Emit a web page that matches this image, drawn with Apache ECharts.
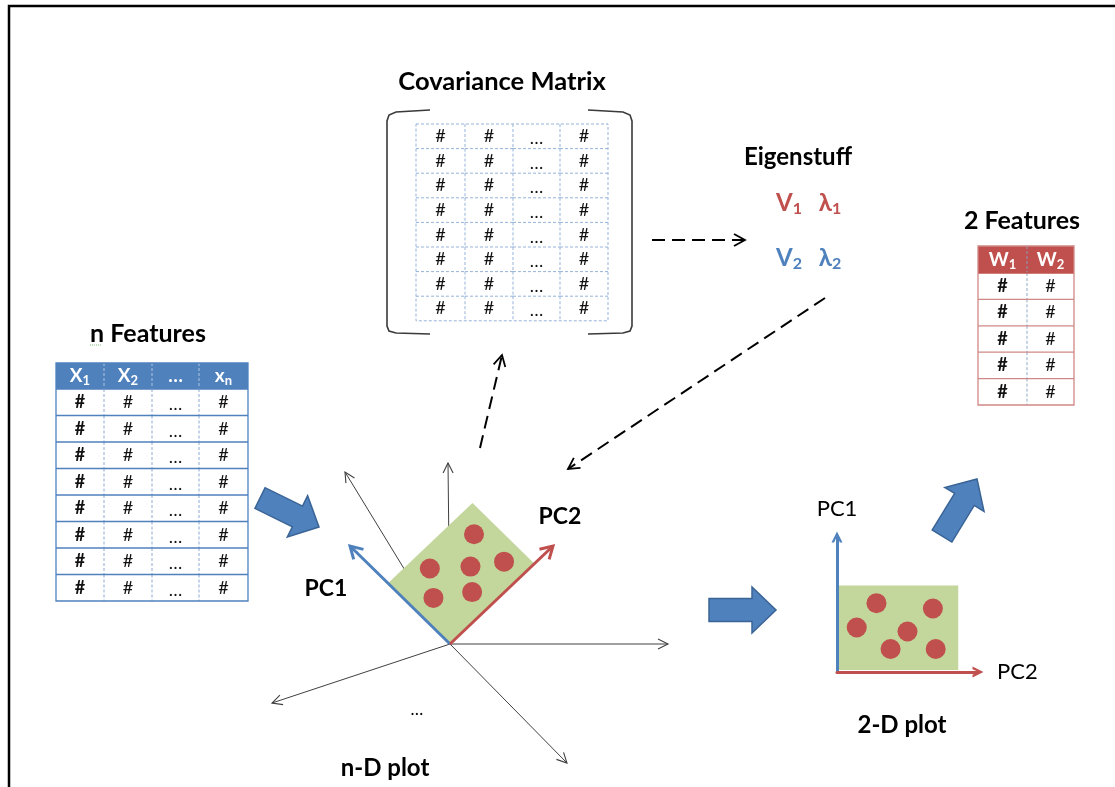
<!DOCTYPE html>
<html>
<head>
<meta charset="utf-8">
<script src="https://cdn.jsdelivr.net/npm/echarts@6/dist/echarts.min.js"></script>
<style>
html,body{margin:0;padding:0;background:#ffffff;}
#chart{width:1115px;height:787px;}
</style>
</head>
<body>
<div id="chart"></div>
<script>
// ================= DATA =================
const covTitle = 'Covariance Matrix';
const covRows = [
  ['#', '#', '…', '#'],
  ['#', '#', '…', '#'],
  ['#', '#', '…', '#'],
  ['#', '#', '…', '#'],
  ['#', '#', '…', '#'],
  ['#', '#', '…', '#'],
  ['#', '#', '…', '#'],
  ['#', '#', '…', '#']
];
const nFeatTitle = 'n Features';
const nFeatHeader = [['X', '1'], ['X', '2'], ['…', ''], ['x', 'n']];
const nFeatRows = [
  ['#', '#', '…', '#'],
  ['#', '#', '…', '#'],
  ['#', '#', '…', '#'],
  ['#', '#', '…', '#'],
  ['#', '#', '…', '#'],
  ['#', '#', '…', '#'],
  ['#', '#', '…', '#'],
  ['#', '#', '…', '#']
];
const twoFeatTitle = '2 Features';
const twoFeatHeader = [['W', '1'], ['W', '2']];
const twoFeatRows = [
  ['#', '#'],
  ['#', '#'],
  ['#', '#'],
  ['#', '#'],
  ['#', '#']
];
const eigenTitle = 'Eigenstuff';
const eigenPairs = [['V', '1', 'λ', '1'], ['V', '2', 'λ', '2']];
// n-D plot: points in (PC1, PC2) units
const ndDots = [[4.5, 6.7], [4.9, 2.8], [3.0, 4.9], [1.6, 6.8], [3.2, 1.5], [1.6, 3.7]];
const ndPatch = [6.2, 8.2];
const ndAxisLabels = ['PC1', 'PC2'];
const ndEllipsis = '…';
const ndCaption = 'n-D plot';
// 2-D plot: points in (PC2, PC1) units
const twoDDots = [[2.8, 5.1], [6.8, 4.7], [1.4, 3.3], [5.0, 3.0], [3.8, 1.7], [7.0, 1.7]];
const twoDPatch = [8.6, 6.4];
const twoDAxisNames = ['PC2', 'PC1'];
const twoDCaption = '2-D plot';

// ================= LAYOUT / STYLE =================
const W = 1115, H = 787;
const FONT = "Lato, 'Open Sans', 'DejaVu Sans', sans-serif";
const BLUE = '#4F81BD', RED = '#C0504D', GREEN = '#C3D69B', DARKBLUE = '#3A6496';
const LAYOUT = {
  cov: { x: 416, y: 124, colW: [49, 48, 47, 48], headerH: 0, rowH: 24.6 },
  covBrackets: [
    [[430, 110], [396, 112], [389, 115], [387, 121], [387, 326], [389, 331], [396, 333], [430, 334]],
    [[588, 110], [623, 112], [630, 115], [632, 121], [632, 326], [630, 331], [623, 333], [588, 334]]
  ],
  nFeat: { x: 56, y: 363, colW: [48, 48, 47, 49], headerH: 26, rowH: 26.5 },
  twoFeat: { x: 978, y: 246, colW: [49, 47], headerH: 27, rowH: 26.4 },
  eigenRows: [[789, 830, 203], [789, 830, 258]],
  nd: { o: [450, 644], u1: [-10, -9.8], u2: [10.3, -9.8],
        axes: [[448, 463], [345, 472], [668, 644], [272, 703], [567, 763]] },
  dashed: [[652, 240, 745, 240], [825, 298, 568, 469], [480, 448, 502, 355]],
  block: [[260, 498, 319, 527], [709, 610, 776, 610], [942, 536, 977, 479]],
  border: [[9, 787], [9, 6], [1115, 6]],
  spellMark: [[90, 345], [102, 345]],
  grid2D: { left: 837, top: 537, width: 141, height: 135 }
};
const textItems = [
  { t: covTitle, p: [502, 82], s: 25.5, w: 'bold' },
  { t: nFeatTitle, p: [148, 334], s: 25, w: 'bold' },
  { t: twoFeatTitle, p: [1022, 221], s: 25, w: 'bold' },
  { t: eigenTitle, p: [798, 157], s: 24, w: 'bold' },
  { t: ndAxisLabels[0], p: [326, 589], s: 23, w: 'bold' },
  { t: ndAxisLabels[1], p: [560, 517], s: 23, w: 'bold' },
  { t: ndEllipsis, p: [417, 710], s: 17, w: 'normal' },
  { t: ndCaption, p: [385, 768], s: 24, w: 'bold' },
  { t: twoDCaption, p: [902, 725], s: 24, w: 'bold' }
];

// ================= HELPERS =================
function add(a, b) { return [a[0] + b[0], a[1] + b[1]]; }
function mul(a, k) { return [a[0] * k, a[1] * k]; }
function unit(a, b) { const dx = b[0] - a[0], dy = b[1] - a[1], l = Math.hypot(dx, dy); return [dx / l, dy / l]; }
function openHead(from, tip, len, hw) {
  const d = unit(from, tip), n = [-d[1], d[0]], b = add(tip, mul(d, -len));
  return [add(b, mul(n, hw)), tip, add(b, mul(n, -hw))];
}
function blockArrow(t, p, bh, hh, hl) {
  const d = unit(t, p), n = [-d[1], d[0]], b = add(p, mul(d, -hl));
  return [add(t, mul(n, bh)), add(b, mul(n, bh)), add(b, mul(n, hh)), p,
          add(b, mul(n, -hh)), add(b, mul(n, -bh)), add(t, mul(n, -bh))];
}
function txt(x, y, text, size, weight, color) {
  return { type: 'text', x: x, y: y, z2: 30,
    style: { text: text, fill: color, fontSize: size, fontWeight: weight, fontFamily: FONT,
             align: 'center', verticalAlign: 'middle' } };
}
function subTxt(x, y, main, sub, size, weight, color) {
  if (!sub) return txt(x, y, main, size, weight, color);
  return { type: 'text', x: x, y: y, z2: 30,
    style: { text: '{m|' + main + '}{s|' + sub + '}', align: 'center', verticalAlign: 'middle',
      rich: {
        m: { fontSize: size, fontWeight: weight, fontFamily: FONT, fill: color, lineHeight: size + 4, verticalAlign: 'middle' },
        s: { fontSize: Math.round(size * 0.66), fontWeight: weight, fontFamily: FONT, fill: color, verticalAlign: 'bottom' }
      } } };
}
function custom0(name, data, renderItem, z) {
  return { type: 'custom', name: name, coordinateSystem: 'cartesian2d', xAxisIndex: 0, yAxisIndex: 0,
           data: data, renderItem: renderItem, silent: true, z: z || 2, animation: false, clip: false };
}

function tableSeries(name, cfg, header, rows, th) {
  const cells = [];
  if (header) header.forEach((h, c) => cells.push({ c: c, r: -1, t: h[0], s: h[1] }));
  rows.forEach((row, r) => row.forEach((t, c) => cells.push({ c: c, r: r, t: t, s: '' })));
  const nCols = cfg.colW.length, nRows = rows.length;
  const totalW = cfg.colW.reduce((a, b) => a + b, 0);
  const totalH = cfg.headerH + nRows * cfg.rowH;
  return custom0(name, cells.map((d, i) => [i, 0]), function (params, api) {
    const d = cells[params.dataIndex];
    let x0 = cfg.x;
    for (let k = 0; k < d.c; k++) x0 += cfg.colW[k];
    const w = cfg.colW[d.c];
    const y0 = d.r < 0 ? cfg.y : cfg.y + cfg.headerH + d.r * cfg.rowH;
    const h = d.r < 0 ? cfg.headerH : cfg.rowH;
    const tl = api.coord([x0, y0]), br = api.coord([x0 + w, y0 + h]);
    const ch = [];
    ch.push({ type: 'rect', z2: 1, shape: { x: tl[0], y: tl[1], width: br[0] - tl[0], height: br[1] - tl[1] },
              style: { fill: d.r < 0 ? th.headerFill : '#ffffff' } });
    if (d.c < nCols - 1) {
      ch.push({ type: 'line', z2: d.r < 0 ? 6 : 5, shape: { x1: br[0], y1: tl[1], x2: br[0], y2: br[1] },
        style: { stroke: d.r < 0 ? th.headerVColor : th.vColor, lineWidth: 1, lineDash: th.vDash } });
    }
    if (d.r < nRows - 1) {
      ch.push({ type: 'line', z2: 6, shape: { x1: tl[0], y1: br[1], x2: br[0], y2: br[1] },
        style: { stroke: d.r < 0 ? th.headerHColor : th.hColor, lineWidth: th.hWidth, lineDash: th.hDash } });
    }
    if (params.dataIndex === 0) {
      const a = api.coord([cfg.x, cfg.y]), b = api.coord([cfg.x + totalW, cfg.y + totalH]);
      ch.push({ type: 'rect', z2: 8, shape: { x: a[0], y: a[1], width: b[0] - a[0], height: b[1] - a[1] },
        style: { fill: null, stroke: th.outer, lineWidth: th.outerWidth, lineDash: th.outerDash } });
    }
    const cx = (tl[0] + br[0]) / 2, cy = (tl[1] + br[1]) / 2;
    if (d.r < 0) {
      ch.push(subTxt(cx, cy, d.t, d.s, th.headerSize, 'bold', '#ffffff'));
    } else {
      const bold = th.boldFirst && d.c === 0 && d.t === '#';
      ch.push(txt(cx, cy + (d.t === '…' ? 2 : 0), d.t, th.size, bold ? 'bold' : 'normal', '#111111'));
    }
    return { type: 'group', children: ch };
  }, 3);
}

// ================= SERIES =================
const series = [];

// page border
series.push(custom0('border', [[0, 0]], function (p, api) {
  return { type: 'polyline', shape: { points: LAYOUT.border.map(q => api.coord(q)) },
           style: { stroke: '#000000', lineWidth: 2.5, fill: null } };
}, 1));

// tables
series.push(tableSeries('cov', LAYOUT.cov, null, covRows, {
  headerFill: '#fff', vColor: '#95B3D7', vDash: [3, 2], hColor: '#95B3D7', hDash: [3, 2], hWidth: 1,
  outer: '#95B3D7', outerWidth: 1, outerDash: [3, 2], size: 18, boldFirst: false
}));
series.push(tableSeries('nfeat', LAYOUT.nFeat, nFeatHeader, nFeatRows, {
  headerFill: BLUE, headerVColor: 'rgba(255,255,255,0.55)', headerHColor: BLUE,
  vColor: '#8DA9D3', vDash: [3, 2], hColor: BLUE, hDash: null, hWidth: 1.3,
  outer: BLUE, outerWidth: 1.3, outerDash: null, size: 18, headerSize: 19, boldFirst: true
}));
series.push(tableSeries('twofeat', LAYOUT.twoFeat, twoFeatHeader, twoFeatRows, {
  headerFill: RED, headerVColor: 'rgba(140,160,200,0.9)', headerHColor: RED,
  vColor: '#8EA9C9', vDash: [3, 2], hColor: '#D08886', hDash: null, hWidth: 1.3,
  outer: '#D08886', outerWidth: 1.3, outerDash: null, size: 18, headerSize: 19, boldFirst: true
}));

// covariance brackets
series.push(custom0('brackets', LAYOUT.covBrackets.map((b, i) => [i, 0]), function (p, api) {
  return { type: 'polyline', shape: { points: LAYOUT.covBrackets[p.dataIndex].map(q => api.coord(q)) },
           style: { stroke: '#3a3a3a', lineWidth: 1.6, fill: null } };
}, 2));

// texts
series.push(custom0('texts', textItems.map(t => t.p), function (p, api) {
  const t = textItems[p.dataIndex];
  const c = api.coord([api.value(0), api.value(1)]);
  return txt(c[0], c[1], t.t, t.s, t.w, '#000000');
}, 10));

// spell-check dotted mark under "n"
series.push(custom0('spell', [[0, 0]], function (p, api) {
  const a = api.coord(LAYOUT.spellMark[0]), b = api.coord(LAYOUT.spellMark[1]);
  return { type: 'line', shape: { x1: a[0], y1: a[1], x2: b[0], y2: b[1] },
           style: { stroke: '#7FBF7F', lineWidth: 1, lineDash: [1, 1] } };
}, 10));

// eigen
series.push(custom0('eigen', eigenPairs.map((e, i) => [i, 0]), function (p, api) {
  const e = eigenPairs[p.dataIndex], pos = LAYOUT.eigenRows[p.dataIndex];
  const col = p.dataIndex === 0 ? RED : BLUE;
  const a = api.coord([pos[0], pos[2]]), b = api.coord([pos[1], pos[2]]);
  return { type: 'group', children: [
    subTxt(a[0], a[1], e[0], e[1], 24, 'bold', col),
    subTxt(b[0], b[1], e[2], e[3], 24, 'bold', col)
  ] };
}, 10));

// dashed arrows
series.push(custom0('dashed', LAYOUT.dashed, function (p, api) {
  const a = api.coord([api.value(0), api.value(1)]), b = api.coord([api.value(2), api.value(3)]);
  return { type: 'group', children: [
    { type: 'line', shape: { x1: a[0], y1: a[1], x2: b[0], y2: b[1] },
      style: { stroke: '#000', lineWidth: 2, lineDash: [13, 7] } },
    { type: 'polyline', shape: { points: openHead(a, b, 11, 6) }, style: { stroke: '#000', lineWidth: 1.8, fill: null } }
  ] };
}, 4));

// block arrows
series.push(custom0('block', LAYOUT.block, function (p, api) {
  const a = api.coord([api.value(0), api.value(1)]), b = api.coord([api.value(2), api.value(3)]);
  return { type: 'polygon', shape: { points: blockArrow(a, b, 11.5, 23, 24) },
           style: { fill: BLUE, stroke: DARKBLUE, lineWidth: 1.5 } };
}, 4));

// n-D plot
const ND = LAYOUT.nd;
function ndPoint(pc1, pc2) {
  return [ND.o[0] + pc1 * ND.u1[0] + pc2 * ND.u2[0], ND.o[1] + pc1 * ND.u1[1] + pc2 * ND.u2[1]];
}
series.push(custom0('ndAxes', ND.axes, function (p, api) {
  const o = api.coord(ND.o), e = api.coord([api.value(0), api.value(1)]);
  return { type: 'group', children: [
    { type: 'line', shape: { x1: o[0], y1: o[1], x2: e[0], y2: e[1] }, style: { stroke: '#404040', lineWidth: 1 } },
    { type: 'polyline', shape: { points: openHead(o, e, 10, 5) }, style: { stroke: '#404040', lineWidth: 1.1, fill: null } }
  ] };
}, 3));
series.push(custom0('ndPatch', [ndPatch], function (p, api) {
  const a = api.value(0), b = api.value(1);
  const pts = [ndPoint(0, 0), ndPoint(a, 0), ndPoint(a, b), ndPoint(0, b)].map(q => api.coord(q));
  return { type: 'polygon', shape: { points: pts }, style: { fill: GREEN } };
}, 4));
series.push(custom0('ndPC', [[10, 0], [0, 10]], function (p, api) {
  const o = api.coord(ND.o), e = api.coord(ndPoint(api.value(0), api.value(1)));
  const col = p.dataIndex === 0 ? BLUE : RED;
  return { type: 'group', children: [
    { type: 'line', shape: { x1: o[0], y1: o[1], x2: e[0], y2: e[1] }, style: { stroke: col, lineWidth: 3 } },
    { type: 'polyline', shape: { points: openHead(o, e, 12, 7) }, style: { stroke: col, lineWidth: 3, fill: null } }
  ] };
}, 5));
series.push(custom0('ndDots', ndDots, function (p, api) {
  const c = api.coord(ndPoint(api.value(0), api.value(1)));
  return { type: 'circle', shape: { cx: c[0], cy: c[1], r: 10 }, style: { fill: RED } };
}, 6));

// 2-D plot (real cartesian grid)
series.push({ type: 'custom', name: 'twoDPatch', coordinateSystem: 'cartesian2d', xAxisIndex: 1, yAxisIndex: 1,
  data: [twoDPatch], silent: true, z: 2, animation: false, clip: false,
  renderItem: function (p, api) {
    const a = api.coord([0, api.value(1)]), b = api.coord([api.value(0), 0]);
    return { type: 'rect', shape: { x: a[0] + 1, y: a[1], width: b[0] - a[0] - 1, height: b[1] - a[1] - 2 }, style: { fill: GREEN } };
  } });
series.push({ type: 'scatter', name: 'twoDDots', xAxisIndex: 1, yAxisIndex: 1, data: twoDDots,
  symbolSize: 20, itemStyle: { color: RED, opacity: 1 }, silent: true, z: 3, animation: false });

const CHEVRON = 'path://M0,10 L5,0 L10,10 L7.6,10 L5,4.2 L2.4,10 Z';
const option = {
  animation: false,
  backgroundColor: '#ffffff',
  grid: [
    { left: 0, top: 0, right: 0, bottom: 0, show: false },
    Object.assign({ show: false }, LAYOUT.grid2D)
  ],
  xAxis: [
    { type: 'value', gridIndex: 0, min: 0, max: W, show: false },
    { type: 'value', gridIndex: 1, min: 0, max: 10, z: 5,
      axisLine: { show: true, onZero: false, lineStyle: { color: RED, width: 3 }, symbol: ['none', CHEVRON], symbolSize: [13, 11] },
      axisTick: { show: false }, axisLabel: { show: false }, splitLine: { show: false },
      name: twoDAxisNames[0], nameLocation: 'end', nameGap: 19,
      nameTextStyle: { color: '#000', fontSize: 22, fontFamily: FONT, padding: [12, 0, 0, 0] } }
  ],
  yAxis: [
    { type: 'value', gridIndex: 0, min: 0, max: H, inverse: true, show: false },
    { type: 'value', gridIndex: 1, min: 0, max: 10, z: 5,
      axisLine: { show: true, onZero: false, lineStyle: { color: BLUE, width: 3 }, symbol: ['none', CHEVRON], symbolSize: [13, 11] },
      axisTick: { show: false }, axisLabel: { show: false }, splitLine: { show: false },
      name: twoDAxisNames[1], nameLocation: 'end', nameGap: 17,
      nameTextStyle: { color: '#000', fontSize: 22, fontFamily: FONT, align: 'center' } }
  ],
  series: series
};
const chart = echarts.init(document.getElementById('chart'), null, { renderer: 'canvas' });
chart.setOption(option);
</script>
</body>
</html>
